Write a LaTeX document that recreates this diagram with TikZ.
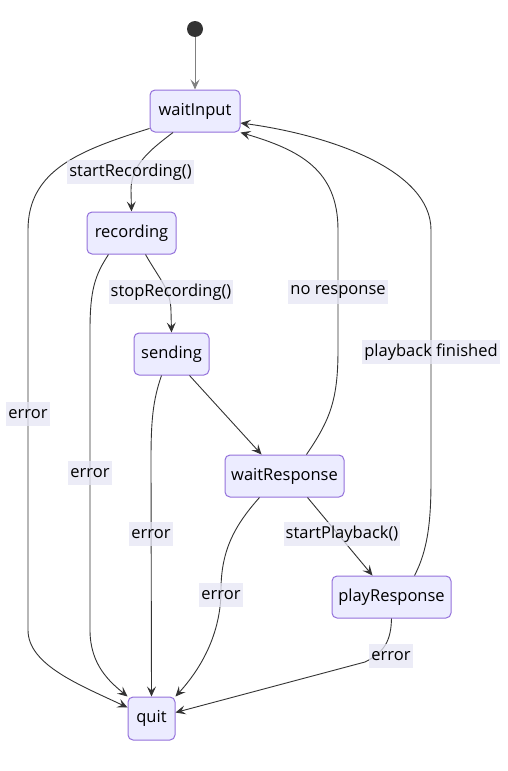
\documentclass[tikz,border=0pt]{standalone}
\usepackage{fontspec}
\setmainfont{Open Sans}
\usetikzlibrary{arrows.meta}
\definecolor{nodefill}{HTML}{ECECFF}
\definecolor{nodedraw}{HTML}{9370DB}
\definecolor{edgecol}{HTML}{333333}
\definecolor{lblfill}{HTML}{E6E6F4}
\tikzset{
  state/.style={draw=nodedraw, fill=nodefill, line width=1pt, rounded corners=5pt,
    minimum height=42pt, inner sep=0pt, font=\fontsize{16.5}{19}\selectfont},
  edge/.style={draw=edgecol, line width=0.9pt, -{Stealth[length=10pt,width=9pt,inset=4pt]}},
  lbl/.style={fill=lblfill, fill opacity=0.75, text opacity=1, inner xsep=2pt, inner ysep=0pt,
    minimum height=24pt, font=\fontsize{16.5}{19}\selectfont},
}
\begin{document}
\begin{tikzpicture}[x=1pt,y=-1pt]
\useasboundingbox (0,0) rectangle (507,771);
\node[circle, fill=edgecol, minimum size=16pt, inner sep=0pt] (start) at (195,29) {};
\node[state, minimum width=90pt] (waitInput) at (195,111) {waitInput};
\node[state, minimum width=89pt] (recording) at (131.5,233) {recording};
\node[state, minimum width=75pt] (sending) at (171.5,354) {sending};
\node[state, minimum width=119pt] (waitResponse) at (284.5,476) {waitResponse};
\node[state, minimum width=119pt] (playResponse) at (391.5,597) {playResponse};
\node[state, minimum width=47pt, minimum height=43pt] (quit) at (151.5,718.5) {quit};

\draw[edge, draw=gray] (start) -- (waitInput.north);
\draw[edge] ([xshift=-22pt]waitInput.south) .. controls (150,150) and (131,165) .. (131,190) -- (recording.north);
\draw[edge] ([yshift=4pt]waitInput.south west) .. controls (80,150) and (28,170) .. (28,230) -- (28,630)
  .. controls (28,665) and (80,685) .. ([yshift=11pt]quit.west);
\draw[edge] ([xshift=-23pt]recording.south) .. controls (95,275) and (90,290) .. (90,330) -- (90,630)
  .. controls (90,665) and (110,682) .. (quit.north west);
\draw[edge] ([xshift=14pt]recording.south) .. controls (160,280) and (171,290) .. (171,312) -- (sending.north);
\draw[edge] ([xshift=-10pt]sending.south) .. controls (153,400) and (151,420) .. (151,460) -- (quit.north);
\draw[edge] ([xshift=18pt]sending.south) -- ([xshift=-23pt]waitResponse.north);
\draw[edge] ([xshift=22pt]waitResponse.north) .. controls (330,420) and (338,400) .. (338,350) -- (338,230)
  .. controls (338,170) and (300,150) .. (waitInput.south east);
\draw[edge] ([xshift=23pt]playResponse.north) .. controls (428,550) and (431,520) .. (431,480) -- (431,230)
  .. controls (431,170) and (330,135) .. ([yshift=-12pt]waitInput.east);
\draw[edge] ([xshift=23pt]waitResponse.south) -- ([xshift=-19pt]playResponse.north);
\draw[edge] ([xshift=-25pt]waitResponse.south) .. controls (235,525) and (221,550) .. (221,590)
  .. controls (221,640) and (195,675) .. (quit.north east);
\draw[edge] (playResponse.south) .. controls (391,640) and (385,652) .. (365,662) -- ([yshift=6pt]quit.east);

\node[lbl] (l1) at (130.5,172) {startRecording()};
\node[lbl] (l2) at (171,292) {stopRecording()};
\node[lbl] (l3) at (338,292) {no response};
\node[lbl] (l4) at (431,352) {playback finished};
\node[lbl] (l5) at (28,414) {error};
\node[lbl] (l6) at (90,473) {error};
\node[lbl] (l7) at (151,534) {error};
\node[lbl] (l8) at (221,595) {error};
\node[lbl] (l9) at (391,656) {error};
\node[lbl] (l10) at (342,534) {startPlayback()};
\end{tikzpicture}
\end{document}
